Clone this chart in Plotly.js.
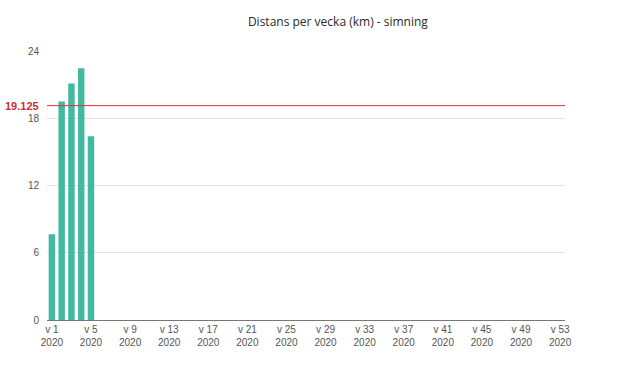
<!DOCTYPE html>
<html>
<head>
<meta charset="utf-8">
<script src="https://cdn.plot.ly/plotly-3.0.1.min.js"></script>
<style>html,body{margin:0;padding:0;background:#fff;}#chart{width:620px;height:369px;}</style>
</head>
<body>
<div id="chart"></div>
<script>
const weeks = [1, 2, 3, 4, 5];
const distances = [7.65, 19.5, 21.1, 22.45, 16.4];
const averageValue = 19.125;
const tickWeeks = [1, 5, 9, 13, 17, 21, 25, 29, 33, 37, 41, 45, 49, 53];
const tickYear = "2020";
const chartTitle = "Distans per vecka (km) - simning";

const trace = {
  type: 'bar',
  x: weeks,
  y: distances,
  width: 0.66,
  marker: {color: '#43b9a1'},
  hoverinfo: 'x+y'
};

const layout = {
  width: 620, height: 369,
  margin: {l: 47, r: 55, t: 51, b: 49},
  paper_bgcolor: '#fff', plot_bgcolor: '#fff',
  showlegend: false,
  title: {text: chartTitle, x: 0.545, xref: 'container', xanchor: 'center', y: 0.94, yref: 'container', yanchor: 'middle',
          font: {family: 'Open Sans, sans-serif', size: 12, color: '#2a2a2a'}},
  xaxis: {
    range: [0.5, 53.5],
    tickvals: tickWeeks,
    ticktext: tickWeeks.map(w => 'v ' + w + '<br>' + tickYear),
    tickfont: {family: 'Liberation Sans, Arial, sans-serif', size: 10, color: '#555'},
    showgrid: false, zeroline: false,
    showline: true, linecolor: '#777', linewidth: 1,
    ticks: '', fixedrange: true
  },
  yaxis: {
    range: [0, 24],
    tickvals: [0, 6, 12, 18, 24],
    tickfont: {family: 'Liberation Sans, Arial, sans-serif', size: 10, color: '#555'},
    gridcolor: '#e3e3e3', gridwidth: 1,
    zeroline: false, showline: false, ticks: '',
    ticklabelstandoff: 7, fixedrange: true
  },
  shapes: [{
    type: 'line', xref: 'paper', x0: 0, x1: 1, yref: 'y', y0: averageValue, y1: averageValue,
    line: {color: '#e03333', width: 1}
  }],
  annotations: [{
    xref: 'paper', x: 0, yref: 'y', y: averageValue, xanchor: 'right', yanchor: 'middle', xshift: -6,
    text: '<b>' + averageValue + '</b>', showarrow: false,
    font: {family: 'Liberation Sans, Arial, sans-serif', size: 11, color: '#cc2f36'}
  }]
};

Plotly.newPlot('chart', [trace], layout, {displayModeBar: false, staticPlot: true});
</script>
</body>
</html>
